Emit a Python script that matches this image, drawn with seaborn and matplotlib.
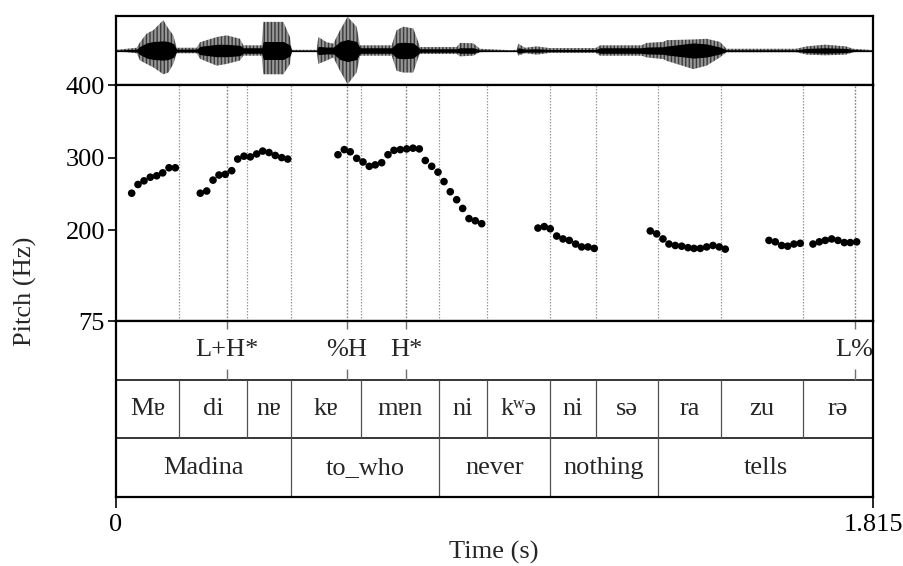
import matplotlib
matplotlib.use("Agg")
import matplotlib.pyplot as plt
import numpy as np
import pandas as pd
import seaborn as sns

# ---------------------------------------------------------------- data
T_END = 1.815
F0_MIN, F0_MAX = 75, 400
f0_ticks = [75, 200, 300, 400]

# pitch track (s, Hz)
pitch_time = [
    0.0376, 0.0527, 0.0671, 0.0822, 0.0976, 0.1120, 0.1271, 0.1422,
    0.2021, 0.2175, 0.2326, 0.2469, 0.2620, 0.2774, 0.2918, 0.3069, 0.3220,
    0.3373, 0.3517, 0.3668, 0.3819, 0.3973, 0.4117,
    0.5322, 0.5474, 0.5617, 0.5771, 0.5922, 0.6073, 0.6217, 0.6370, 0.6521,
    0.6665, 0.6816, 0.6970, 0.7121, 0.7272, 0.7416, 0.7569, 0.7720, 0.7864,
    0.8015, 0.8168, 0.8312, 0.8463, 0.8614, 0.8768,
    1.0117, 1.0268, 1.0412, 1.0566, 1.0717, 1.0868, 1.1021, 1.1165, 1.1316, 1.1467,
    1.2810, 1.2963, 1.3114, 1.3258, 1.3409, 1.3563, 1.3714, 1.3858, 1.4009,
    1.4162, 1.4313, 1.4464, 1.4608,
    1.5656, 1.5807, 1.5960, 1.6104, 1.6255, 1.6406,
    1.6711, 1.6862, 1.7006, 1.7159, 1.7310, 1.7462, 1.7605, 1.7758,
]
pitch_hz = [
    251, 263, 268, 273, 275, 279, 286, 286,
    251, 254, 269, 276, 277, 282, 298, 302, 301,
    305, 309, 307, 303, 300, 298,
    304, 311, 308, 299, 294, 288, 290, 293, 304,
    310, 311, 312, 313, 312, 296, 288, 280, 267,
    253, 242, 230, 216, 213, 209,
    203, 205, 202, 192, 188, 186, 181, 177, 177, 175,
    199, 195, 188, 181, 179, 178, 176, 175, 175,
    177, 179, 177, 174,
    186, 184, 179, 178, 181, 182,
    181, 184, 186, 188, 186, 183, 183, 184,
]

# TextGrid tiers
tone_times = [0.2654, 0.5531, 0.6960, 1.7711]
tone_labels = ["L+H*", "%H", "H*", "L%"]

syllable_bounds = [0.0, 0.1518, 0.3134, 0.4196, 0.5874, 0.7744, 0.8895,
                   1.0398, 1.1508, 1.3002, 1.4505, 1.6464, 1.815]
syllable_labels = ["Mɐ", "di", "nɐ", "kɐ", "mɐn", "ni", "kʷə", "ni", "sə",
                   "ra", "zu", "rə"]

word_bounds = [0.0, 0.4196, 0.7744, 1.0398, 1.3002, 1.815]
word_labels = ["Madina", "to_who", "never", "nothing", "tells"]

# waveform amplitude envelope (upper, lower, dense core), full scale = 1
wave_time = [
    0.0000, 0.0496, 0.0575, 0.0735, 0.0895, 0.1135, 0.1255, 0.1375, 0.1455,
    0.1934, 0.2014, 0.2414, 0.2653, 0.2973, 0.3053, 0.3492, 0.3532, 0.4012,
    0.4172, 0.4212, 0.4811, 0.4851, 0.5051, 0.5211, 0.5370, 0.5554, 0.5770,
    0.5850, 0.6609, 0.6729, 0.6889, 0.7128, 0.7248, 0.7288, 0.8168, 0.8247,
    0.8567, 0.8727, 0.9446, 0.9606, 0.9646, 0.9806, 1.0086, 1.0405, 1.1500,
    1.1604, 1.2600, 1.2723, 1.3122, 1.3202, 1.3842, 1.4161, 1.4481, 1.4641,
    1.6300, 1.6559, 1.7000, 1.7500, 1.7678, 1.8077, 1.8150,
]
wave_top = [
    0.02, 0.08, 0.24, 0.49, 0.59, 0.88, 0.64, 0.44, 0.08,
    0.08, 0.24, 0.39, 0.44, 0.34, 0.15, 0.15, 0.83, 0.83,
    0.39, 0.02, 0.02, 0.39, 0.24, 0.20, 0.59, 0.98, 0.69,
    0.15, 0.15, 0.59, 0.69, 0.64, 0.25, 0.10, 0.10, 0.22,
    0.21, 0.05, 0.01, 0.02, 0.20, 0.08, 0.12, 0.07, 0.07,
    0.15, 0.15, 0.22, 0.25, 0.30, 0.32, 0.34, 0.25, 0.05,
    0.05, 0.12, 0.17, 0.12, 0.05, 0.02, 0.01,
]
wave_bottom = [
    0.02, 0.08, 0.29, 0.39, 0.49, 0.69, 0.64, 0.39, 0.08,
    0.08, 0.24, 0.44, 0.39, 0.29, 0.15, 0.15, 0.69, 0.69,
    0.39, 0.02, 0.02, 0.39, 0.29, 0.20, 0.59, 0.98, 0.64,
    0.15, 0.15, 0.59, 0.64, 0.64, 0.20, 0.10, 0.10, 0.17,
    0.15, 0.05, 0.01, 0.02, 0.15, 0.08, 0.12, 0.07, 0.07,
    0.15, 0.15, 0.20, 0.25, 0.30, 0.54, 0.44, 0.20, 0.05,
    0.05, 0.12, 0.14, 0.12, 0.05, 0.02, 0.01,
]
wave_core = [
    0.01, 0.04, 0.12, 0.22, 0.26, 0.28, 0.26, 0.20, 0.04,
    0.04, 0.12, 0.18, 0.18, 0.15, 0.08, 0.08, 0.26, 0.26,
    0.16, 0.01, 0.01, 0.12, 0.10, 0.10, 0.26, 0.32, 0.26,
    0.08, 0.08, 0.22, 0.24, 0.22, 0.10, 0.05, 0.05, 0.08,
    0.08, 0.02, 0.01, 0.01, 0.08, 0.04, 0.05, 0.03, 0.03,
    0.08, 0.08, 0.10, 0.11, 0.13, 0.22, 0.19, 0.10, 0.02,
    0.02, 0.06, 0.08, 0.06, 0.03, 0.01, 0.01,
]

# ---------------------------------------------------------------- style
sns.set_theme(style="white")
plt.rcParams["font.family"] = ["Liberation Serif", "DejaVu Serif"]
plt.rcParams["hatch.linewidth"] = 0.6
plt.rcParams["hatch.color"] = "#151515"
FS = 19

W, H = 904, 566
fig = plt.figure(figsize=(W / 100, H / 100), dpi=100)


def box(x0, y0, x1, y1):
    """Pixel rectangle (top-left origin) to figure fraction."""
    return [x0 / W, 1 - y1 / H, (x1 - x0) / W, (y1 - y0) / H]


ax_w = fig.add_axes(box(116, 16, 873, 85))
ax_p = fig.add_axes(box(116, 85, 873, 321))
ax_t = fig.add_axes(box(116, 321, 873, 497))

for ax in (ax_w, ax_p, ax_t):
    ax.set_xlim(0, T_END)
    ax.set_facecolor("white")
    for sp in ax.spines.values():
        sp.set_color("black")
        sp.set_linewidth(1.6)
        sp.set_visible(True)

# ---------------------------------------------------------------- waveform
wt = np.array(wave_time)
ax_w.fill_between(wt, -np.array(wave_bottom), np.array(wave_top),
                  facecolor="none", edgecolor="#151515", hatch="|" * 12,
                  linewidth=0)
ax_w.fill_between(wt, -np.array(wave_core), np.array(wave_core),
                  color="black", linewidth=0)
ax_w.axhline(0, color="black", lw=0.9)
ax_w.set_ylim(-1, 1)
ax_w.set_xticks([])
ax_w.set_yticks([])

# ---------------------------------------------------------------- pitch
inner_bounds = syllable_bounds[1:-1]
ax_p.vlines(inner_bounds, F0_MIN, F0_MAX, colors="#9a9a9a",
            linestyles=(0, (1.2, 1.2)), lw=0.9)
ax_p.vlines(tone_times, F0_MIN, F0_MAX, colors="#808080",
            linestyles=(0, (1.2, 1.2)), lw=1.0)

pitch_df = pd.DataFrame({"time": pitch_time, "f0": pitch_hz})
sns.scatterplot(data=pitch_df, x="time", y="f0", ax=ax_p, color="black",
                s=30, edgecolor="none", legend=False, zorder=3)
ax_p.set_ylim(F0_MIN, F0_MAX)
ax_p.set_xticks([])
ax_p.set_yticks(f0_ticks)
ax_p.set_yticklabels([str(v) for v in f0_ticks], fontsize=FS)
ax_p.tick_params(axis="y", direction="out", length=6, width=1.2,
                 pad=2, left=True, colors="black")
ax_p.set_xlabel("")
ax_p.set_ylabel("")

# ---------------------------------------------------------------- tiers
ax_t.set_ylim(0, 3)
ax_t.set_yticks([])
ax_t.axhline(2, color="black", lw=1.1)
ax_t.axhline(1, color="black", lw=1.1)

# tone tier
for t, lab in zip(tone_times, tone_labels):
    ax_t.vlines(t, 2.86, 3.0, colors="#707070", lw=1.0)
    ax_t.vlines(t, 2.0, 2.18, colors="#707070", lw=1.0)
    ax_t.text(t, 2.5, lab, ha="center", va="center", fontsize=FS)

# syllable tier
ax_t.vlines(inner_bounds, 1.0, 2.0, colors="#505050", lw=0.9)
for a, b, lab in zip(syllable_bounds[:-1], syllable_bounds[1:], syllable_labels):
    ax_t.text((a + b) / 2, 1.5, lab, ha="center", va="center", fontsize=FS)

# word tier
ax_t.vlines(word_bounds[1:-1], 0.0, 1.0, colors="#505050", lw=0.9)
for a, b, lab in zip(word_bounds[:-1], word_bounds[1:], word_labels):
    ax_t.text((a + b) / 2, 0.5, lab, ha="center", va="center", fontsize=FS)

ax_t.set_xticks([0, T_END])
ax_t.set_xticklabels(["0", "1.815"], fontsize=FS)
ax_t.tick_params(axis="x", direction="out", length=8, width=1.2, pad=4,
                 bottom=True, colors="black")

# axis titles
fig.text(25 / W, 1 - 291 / H, "Pitch (Hz)", rotation=90, ha="center",
         va="center", fontsize=FS)
fig.text(494 / W, 1 - 552 / H, "Time (s)", ha="center", va="center",
         fontsize=FS)

fig.savefig("out.png", dpi=100, facecolor="white")
